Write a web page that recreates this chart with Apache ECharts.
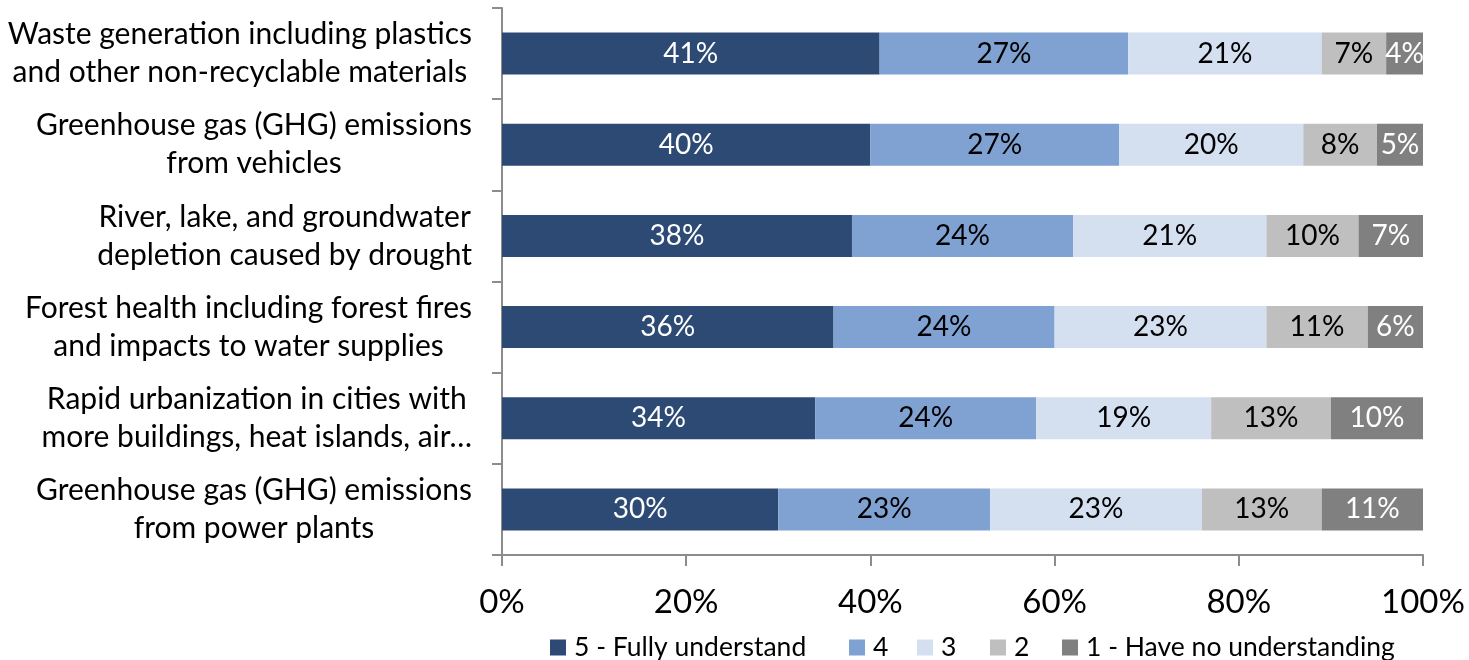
<!DOCTYPE html>
<html>
<head>
<meta charset="utf-8">
<script src="https://cdn.jsdelivr.net/npm/echarts@6/dist/echarts.min.js"></script>
<style>
  html, body { margin: 0; padding: 0; background: #fff; }
  #chart { width: 1469px; height: 660px; }
</style>
</head>
<body>
<div id="chart"></div>
<script>
// categories, top to bottom
var categories = [
  'Waste generation including plastics\nand other non-recyclable materials',
  'Greenhouse gas (GHG) emissions\nfrom vehicles',
  'River, lake, and groundwater\ndepletion caused by drought',
  'Forest health including forest fires\nand impacts to water supplies',
  'Rapid urbanization in cities with\nmore buildings, heat islands, air…',
  'Greenhouse gas (GHG) emissions\nfrom power plants'
]
var seriesNames = ['5 - Fully understand', '4', '3', '2', '1 - Have no understanding']
var fully = [41, 40, 38, 36, 34, 30]
var four = [27, 27, 24, 24, 24, 23]
var three = [21, 20, 21, 23, 19, 23]
var two = [7, 8, 10, 11, 13, 13]
var none = [4, 5, 7, 6, 10, 11]
var xTicks = [0, 20, 40, 60, 80, 100]

var colors = ['#2C4A74', '#7FA2D2', '#D4E0F0', '#BFBFBF', '#808080']
var labelColors = ['#fff', '#000', '#000', '#000', '#fff']
var values = [fully, four, three, two, none]
var legendLeft = [550, 849, 917, 990, 1062]
var font = 'Lato, "Open Sans", sans-serif'

var chart = echarts.init(document.getElementById('chart'))

var series = seriesNames.map(function (name, i) {
  return {
    name: name,
    type: 'bar',
    stack: 'total',
    barWidth: '46%',
    data: values[i],
    itemStyle: { color: colors[i] },
    label: {
      show: true,
      position: 'inside',
      formatter: '{c}%',
      color: labelColors[i],
      fontFamily: font,
      fontSize: 28
    },
    animation: false
  }
})

// one legend per item so the spacing follows the original
var legends = seriesNames.map(function (name, i) {
  return {
    data: [name],
    left: legendLeft[i],
    top: 634,
    padding: 0,
    icon: 'rect',
    itemWidth: 16,
    itemHeight: 16,
    textStyle: { fontSize: 26.5, color: '#000', fontFamily: font, padding: [0, 0, 0, 3] }
  }
})

chart.setOption({
  textStyle: { fontFamily: font },
  grid: { left: 502, right: 46, top: 8, bottom: 105 },
  legend: legends,
  xAxis: {
    type: 'value',
    min: 0,
    max: 100,
    interval: 20,
    axisLine: { show: true, lineStyle: { color: '#8C8C8C', width: 2 } },
    axisTick: { show: true, length: 11, lineStyle: { color: '#8C8C8C', width: 2 } },
    splitLine: { show: false },
    axisLabel: {
      margin: 31,
      fontSize: 33,
      color: '#000',
      fontFamily: font,
      formatter: function (v) { return xTicks.indexOf(v) >= 0 ? v + '%' : '' }
    }
  },
  yAxis: {
    type: 'category',
    inverse: true,
    data: categories,
    axisLine: { show: true, lineStyle: { color: '#8C8C8C', width: 2 } },
    axisTick: { show: true, length: 10, lineStyle: { color: '#8C8C8C', width: 2 } },
    axisLabel: {
      margin: 30,
      color: '#000',
      fontFamily: font,
      fontSize: 30,
      lineHeight: 38,
      formatter: function (v) {
        return v.split('\n').map(function (s) { return '{c|' + s + '}' }).join('\n')
      },
      rich: {
        c: { align: 'center', fontSize: 30, lineHeight: 38, fontFamily: font, color: '#000' }
      }
    }
  },
  series: series
})
</script>
</body>
</html>
